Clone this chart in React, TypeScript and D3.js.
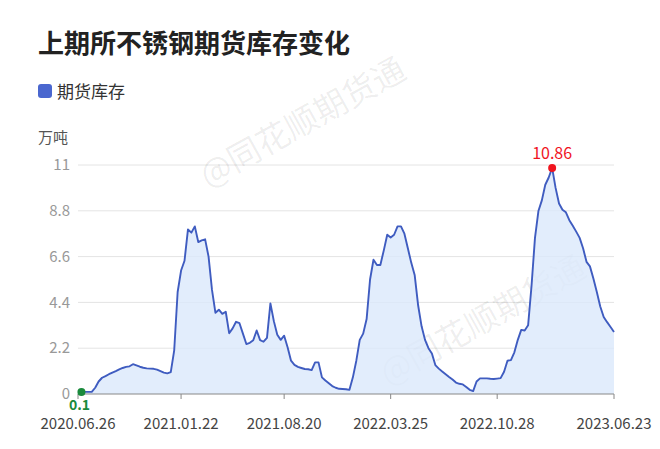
import React from "react";
import * as d3 from "d3";

const title = "上期所不锈钢期货库存变化";
const seriesName = "期货库存";
const unit = "万吨";
const watermark = "@同花顺期货通";

const firstWeek = "2020-07-03";
const axisStart = "2020-06-26";
const axisEnd = "2023-06-23";

// weekly stock, 万吨
const stock = [
  0.1, 0.1, 0.1, 0.1, 0.3, 0.6, 0.78, 0.86, 0.95, 1.03,
  1.1, 1.18, 1.25, 1.3, 1.33, 1.43, 1.37, 1.31, 1.26, 1.23,
  1.22, 1.21, 1.17, 1.1, 1.03, 0.99, 1.05, 2.1, 4.9, 5.93,
  6.4, 7.9, 7.75, 8.05, 7.3, 7.38, 7.43, 6.6, 5.0, 3.9,
  4.05, 3.85, 3.95, 2.92, 3.15, 3.47, 3.4, 2.9, 2.4, 2.46,
  2.58, 3.05, 2.59, 2.51, 2.7, 4.35, 3.5, 2.85, 2.6, 2.8,
  2.25, 1.6, 1.4, 1.3, 1.25, 1.2, 1.19, 1.15, 1.52, 1.52,
  0.8, 0.65, 0.52, 0.38, 0.3, 0.25, 0.24, 0.23, 0.2, 0.8,
  1.6, 2.6, 2.9, 3.6, 5.5, 6.45, 6.2, 6.2, 6.9, 7.65,
  7.52, 7.65, 8.05, 8.05, 7.7, 7.0, 6.3, 5.7, 4.25, 3.25,
  2.6, 2.2, 1.95, 1.39, 1.22, 1.08, 0.95, 0.82, 0.7, 0.55,
  0.49, 0.46, 0.34, 0.2, 0.14, 0.6, 0.75, 0.75, 0.75, 0.73,
  0.72, 0.74, 0.76, 1.07, 1.6, 1.63, 2.0, 2.6, 3.08, 3.05,
  3.3, 5.2, 7.5, 8.79, 9.3, 10.05, 10.4, 10.86, 9.9, 9.15,
  8.85, 8.73, 8.35, 8.08, 7.8, 7.5, 7.0, 6.35, 6.13, 5.55,
  4.9, 4.2, 3.7, 3.45, 3.22, 2.98,
];

const xTickLabels = ["2020.06.26", "2021.01.22", "2021.08.20", "2022.03.25", "2022.10.28", "2023.06.23"];
const yTicks = [0, 2.2, 4.4, 6.6, 8.8, 11];

const parseDash = d3.timeParse("%Y-%m-%d");
const parseDot = d3.timeParse("%Y.%m.%d");

type Point = { date: Date; value: number };

export default function App() {
  const width = 660;
  const height = 449;
  const left = 78;
  const right = 614;
  const top = 165;
  const bottom = 394;

  const start = parseDash(firstWeek)!;
  const data: Point[] = stock.map((v, i) => ({ date: d3.timeWeek.offset(start, i), value: v }));

  const x = d3.scaleTime().domain([parseDash(axisStart)!, parseDash(axisEnd)!]).range([left, right]);
  const y = d3.scaleLinear().domain([0, 11]).range([bottom, top]);

  const line = d3.line<Point>().x((d) => x(d.date)).y((d) => y(d.value));
  const area = d3.area<Point>().x((d) => x(d.date)).y0(y(0)).y1((d) => y(d.value));

  const maxIdx = d3.maxIndex(data, (d) => d.value);
  const minIdx = d3.minIndex(data, (d) => d.value);
  const maxP = data[maxIdx];
  const minP = data[minIdx];

  const font = "'Noto Sans CJK SC', 'Noto Sans', sans-serif";

  return (
    <svg width={width} height={height} style={{ position: "absolute", left: 0, top: 0, background: "#fff" }} fontFamily={font}>
      <text x={38} y={53} fontSize={26} fontWeight={700} fill="#222">{title}</text>

      <rect x={38} y={84} width={14} height={14} rx={3} fill="#4a67cf" />
      <text x={57} y={97.5} fontSize={17} fill="#333">{seriesName}</text>

      <text x={38} y={143} fontSize={15} fill="#555">{unit}</text>

      {/* grid */}
      {yTicks.map((t) => (
        <g key={t}>
          {t > 0 && <line x1={left} x2={right} y1={y(t)} y2={y(t)} stroke="#e4e4e4" strokeWidth={1} />}
          <text x={70} y={y(t)} dy="0.35em" textAnchor="end" fontSize={15} fill="#999">{t}</text>
        </g>
      ))}

      {/* watermarks */}
      <text x={208} y={188} fontSize={33} fill="#000" fillOpacity={0.07} transform="rotate(-29 208 188)">{watermark}</text>
      <text x={388} y={386} fontSize={33} fill="#000" fillOpacity={0.07} transform="rotate(-29 388 386)">{watermark}</text>

      <path d={area(data) ?? undefined} fill="#dbe8fb" fillOpacity={0.8} />
      <path d={line(data) ?? undefined} fill="none" stroke="#3f5cc0" strokeWidth={1.9} strokeLinejoin="round" />

      {/* x axis */}
      <line x1={left} x2={right} y1={bottom} y2={bottom} stroke="#888" strokeWidth={1} />
      {xTickLabels.map((s) => {
        const px = x(parseDot(s)!);
        return (
          <g key={s}>
            <line x1={px} x2={px} y1={bottom} y2={bottom + 5} stroke="#888" />
            <text x={px} y={429} textAnchor="middle" fontSize={15} fill="#444">{s}</text>
          </g>
        );
      })}

      {/* max / min markers */}
      <circle cx={x(maxP.date)} cy={y(maxP.value)} r={4} fill="#f0141e" />
      <text x={x(maxP.date)} y={y(maxP.value) - 9} textAnchor="middle" fontSize={16} fill="#f0141e">{maxP.value}</text>
      <circle cx={x(minP.date)} cy={y(minP.value)} r={4} fill="#1a8a3c" />
      <text x={x(minP.date) - 2} y={y(minP.value) + 18} textAnchor="middle" fontSize={14} fontWeight={700} fill="#1a8a3c">{minP.value}</text>
    </svg>
  );
}
